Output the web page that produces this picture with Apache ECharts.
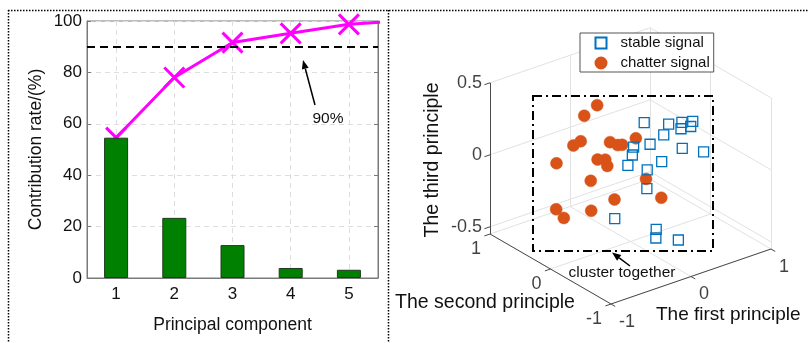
<!DOCTYPE html>
<html>
<head>
<meta charset="utf-8">
<script src="https://cdn.jsdelivr.net/npm/echarts@6/dist/echarts.min.js"></script>
<style>
  html, body { margin: 0; padding: 0; background: #fff; }
  #chart { width: 808px; height: 343px; }
</style>
</head>
<body>
<div id="chart"></div>
<script>
// ---- Contribution of each principal component (%) ----
const components = [1, 2, 3, 4, 5];
const contribution = [54.6, 23.4, 12.8, 3.9, 3.2];
const cumulativeX = [1, 2, 3, 4, 5, 6];
const cumulative = [54.6, 78.0, 91.6, 95.2, 98.7, 100.3];
const threshold = 90;

// ---- Scores on the first three principal components [first, second, third] ----
const stableSignal = [
  [0.02, -0.20, 0.32], [0.25, -0.30, 0.29], [0.34, -0.40, 0.31], [0.40, -0.50, 0.33],
  [0.48, -0.20, 0.19], [0.45, -0.40, 0.26], [0.34, -0.10, 0.15], [0.32, 0.10, 0.04],
  [0.19, 0.20, 0.02], [0.42, -0.30, 0.09], [0.46, -0.60, 0.13], [0.25, 0.30, -0.07],
  [0.39, 0.00, -0.07], [0.27, 0.40, -0.17], [0.36, 0.20, -0.17], [0.28, 0.10, -0.26],
  [0.03, 0.30, -0.47], [0.17, -0.20, -0.45], [0.09, -0.30, -0.47], [0.22, -0.50, -0.46]
];
const chatterSignal = [
  [-0.19, 0.30, 0.36], [-0.20, 0.50, 0.24], [-0.32, 0.40, 0.11], [-0.26, 0.60, 0.02],
  [-0.18, 0.10, 0.15], [-0.16, 0.00, 0.15], [-0.18, -0.10, 0.18], [-0.16, -0.30, 0.27],
  [-0.32, 0.80, -0.14], [-0.26, 0.20, 0.02], [-0.24, 0.10, 0.04], [-0.29, 0.00, 0.03],
  [-0.27, 0.30, -0.15], [-0.26, -0.60, 0.08], [-0.20, 0.00, -0.22], [-0.22, -0.80, -0.01],
  [-0.40, 0.70, -0.42], [-0.38, 0.60, -0.46], [-0.34, 0.20, -0.32]
];
const firstTicks = [-1, 0, 1];
const secondTicks = [-1, 0, 1];
const thirdTicks = [-0.5, 0, 0.5];

// ---- Orthographic view of the 3-D box inside the right panel ----
const range3d = { x: [-1, 1], y: [-1, 1], z: [-0.55, 0.5] };
const box = { corner: [223, 304], spanX: [160, -55], spanY: [-121, -70], spanZ: [0, -151.2] };
function project(p) {
  const u = (p[0] - range3d.x[0]) / (range3d.x[1] - range3d.x[0]);
  const v = (p[1] - range3d.y[0]) / (range3d.y[1] - range3d.y[0]);
  const w = (p[2] - range3d.z[0]) / (range3d.z[1] - range3d.z[0]);
  return [
    box.corner[0] + u * box.spanX[0] + v * box.spanY[0] + w * box.spanZ[0],
    box.corner[1] + u * box.spanX[1] + v * box.spanY[1] + w * box.spanZ[1]
  ];
}
const [x0, x1] = range3d.x, [y0, y1] = range3d.y, [zmin, zmax] = range3d.z;

// back planes grid
const gridSegs = [];
firstTicks.forEach(t => gridSegs.push([[t, y0, zmin], [t, y1, zmin]]));
secondTicks.forEach(t => gridSegs.push([[x0, t, zmin], [x1, t, zmin]]));
firstTicks.forEach(t => gridSegs.push([[t, y1, zmin], [t, y1, zmax]]));
thirdTicks.forEach(t => gridSegs.push([[x0, y1, t], [x1, y1, t]]));
secondTicks.forEach(t => gridSegs.push([[x1, t, zmin], [x1, t, zmax]]));
thirdTicks.forEach(t => gridSegs.push([[x1, y0, t], [x1, y1, t]]));

// axis lines and their tick marks
const axisSegs = [
  [[x0, y0, zmin], [x1, y0, zmin]],
  [[x0, y0, zmin], [x0, y1, zmin]],
  [[x0, y1, zmin], [x0, y1, zmax]]
];
firstTicks.forEach(t => axisSegs.push([[t, y0, zmin], [t, y0 - 0.07, zmin]]));
secondTicks.forEach(t => axisSegs.push([[x0, t, zmin], [x0 - 0.07, t, zmin]]));
thirdTicks.forEach(t => axisSegs.push([[x0, y1, t], [x0 - 0.07, y1, t]]));

const toLines = segs => segs.map(s => ({ coords: [project(s[0]), project(s[1])] }));
const fmt = v => (v < 0 ? '-' + Math.abs(v) : String(v));

const tickLabels = [];
thirdTicks.forEach(t => tickLabels.push({ value: project([x0, y1, t]), name: fmt(t), off: [-8, 0], align: 'right' }));
secondTicks.forEach(t => tickLabels.push({ value: project([x0, t, zmin]), name: fmt(t), off: [-9, 15], align: 'right' }));
firstTicks.forEach(t => tickLabels.push({ value: project([t, y0, zmin]), name: fmt(t), off: [8, 18], align: 'left' }));

const FONT = 'Liberation Sans, Arial, Helvetica, sans-serif';
const INK = '#111';

function arrow(from, to) {
  const dx = to[0] - from[0], dy = to[1] - from[1];
  const len = Math.hypot(dx, dy), ux = dx / len, uy = dy / len;
  const hl = 9, hw = 3.5;
  const bx = to[0] - ux * hl, by = to[1] - uy * hl;
  return [
    { type: 'line', shape: { x1: from[0], y1: from[1], x2: bx, y2: by }, style: { stroke: '#000', lineWidth: 1.5 }, z: 20 },
    { type: 'polygon', shape: { points: [to, [bx - uy * hw, by + ux * hw], [bx + uy * hw, by - ux * hw]] }, style: { fill: '#000' }, z: 20 }
  ];
}
const dotted = { stroke: '#000', lineWidth: 1.5, lineDash: [1.5, 1.5] };

const chart = echarts.init(document.getElementById('chart'), null, { renderer: 'canvas' });
chart.setOption({
  animation: false,
  backgroundColor: '#fff',
  textStyle: { fontFamily: FONT },
  grid: [
    { left: 87, top: 21, width: 291, height: 257, show: true, borderColor: '#7a7a7a', borderWidth: 1, backgroundColor: 'transparent' },
    { left: 388, top: 0, width: 420, height: 343 }
  ],
  xAxis: [
    {
      gridIndex: 0, type: 'value', min: 0.5, max: 5.5,
      name: 'Principal component', nameLocation: 'middle', nameGap: 38,
      nameTextStyle: { fontSize: 17.5, color: INK, fontFamily: FONT },
      axisLine: { show: true, onZero: false, lineStyle: { color: '#7a7a7a' } },
      axisTick: { show: true, inside: true, length: 4, customValues: components, lineStyle: { color: '#7a7a7a' } },
      axisLabel: { customValues: components, fontSize: 17, color: INK, margin: 8, fontFamily: FONT },
      splitLine: { show: true, lineStyle: { type: [5, 4], color: '#dedede' } }
    },
    { gridIndex: 1, type: 'value', min: 0, max: 420, show: false }
  ],
  yAxis: [
    {
      gridIndex: 0, type: 'value', min: 0, max: 100, interval: 20,
      name: 'Contribution rate/(%)', nameLocation: 'middle', nameGap: 42,
      nameTextStyle: { fontSize: 17.5, color: INK, fontFamily: FONT },
      axisLine: { show: true, lineStyle: { color: '#7a7a7a' } },
      axisTick: { show: true, inside: true, length: 4, lineStyle: { color: '#7a7a7a' } },
      axisLabel: { fontSize: 17, color: INK, margin: 5, fontFamily: FONT },
      splitLine: { show: true, lineStyle: { type: [5, 4], color: '#dedede' } }
    },
    {
      gridIndex: 0, type: 'value', min: 0, max: 100, interval: 20, position: 'right',
      axisLine: { show: true, lineStyle: { color: '#7a7a7a' } },
      axisTick: { show: true, inside: true, length: 4, lineStyle: { color: '#7a7a7a' } },
      axisLabel: { show: false }, splitLine: { show: false }
    },
    { gridIndex: 1, type: 'value', min: 0, max: 343, inverse: true, show: false }
  ],
  legend: {
    data: ['stable signal', 'chatter signal'],
    orient: 'vertical', left: 580, top: 33,
    padding: [1.5, 4, 0.5, 14.5], itemGap: 3,
    itemWidth: 11, itemHeight: 11,
    borderColor: '#555', borderWidth: 1, backgroundColor: '#fff',
    textStyle: { fontSize: 15, color: INK, fontFamily: FONT, lineHeight: 17, padding: [0, 0, 0, 9] },
    z: 30
  },
  series: [
    {
      type: 'line', xAxisIndex: 0, yAxisIndex: 0, clip: true,
      data: cumulativeX.map((x, i) => [x, cumulative[i]]),
      symbol: 'path://M0,0L10,10M10,0L0,10', symbolSize: 20,
      lineStyle: { color: '#ff00ff', width: 3 },
      itemStyle: { color: '#ff00ff', borderColor: '#ff00ff', borderWidth: 3 },
      z: 2,
      markLine: {
        silent: true, symbol: ['none', 'none'], label: { show: false },
        lineStyle: { color: '#000', width: 2, type: [8, 5] },
        data: [{ yAxis: threshold }]
      }
    },
    {
      type: 'bar', xAxisIndex: 0, yAxisIndex: 0, barWidth: 24,
      data: components.map((c, i) => [c, contribution[i]]),
      itemStyle: { color: '#008000', borderColor: '#203820', borderWidth: 1 },
      z: 3
    },
    {
      type: 'lines', coordinateSystem: 'cartesian2d', xAxisIndex: 1, yAxisIndex: 2,
      data: toLines(gridSegs), lineStyle: { color: '#e2e2e2', width: 1, opacity: 1 }, silent: true, z: 1
    },
    {
      type: 'lines', coordinateSystem: 'cartesian2d', xAxisIndex: 1, yAxisIndex: 2,
      data: toLines(axisSegs), lineStyle: { color: '#4a4a4a', width: 1, opacity: 1 }, silent: true, z: 2
    },
    {
      type: 'scatter', xAxisIndex: 1, yAxisIndex: 2, symbolSize: 0, silent: true,
      data: tickLabels.map(t => ({
        value: t.value, name: t.name,
        label: { show: true, position: 'inside', offset: t.off, align: t.align, verticalAlign: 'middle', formatter: t.name, fontSize: 18, color: INK, fontFamily: FONT }
      }))
    },
    {
      name: 'chatter signal', type: 'scatter', xAxisIndex: 1, yAxisIndex: 2,
      data: chatterSignal.map(project), symbol: 'circle', symbolSize: 12,
      itemStyle: { color: '#D95319', borderColor: '#D95319', borderWidth: 0.5, opacity: 1 }, z: 5
    },
    {
      name: 'stable signal', type: 'scatter', xAxisIndex: 1, yAxisIndex: 2,
      data: stableSignal.map(project), symbol: 'rect', symbolSize: 10,
      itemStyle: { color: 'rgba(255,255,255,0)', borderColor: '#0072BD', borderWidth: 1.3, opacity: 1 }, z: 6
    }
  ],
  graphic: [
    // panel frames
    { type: 'line', shape: { x1: 8, y1: 10.5, x2: 808, y2: 10.5 }, style: dotted, z: 40 },
    { type: 'line', shape: { x1: 8.5, y1: 10, x2: 8.5, y2: 343 }, style: dotted, z: 40 },
    { type: 'line', shape: { x1: 388.5, y1: 10, x2: 388.5, y2: 343 }, style: dotted, z: 40 },
    // threshold annotation
    ...arrow([315, 105], [303, 60]),
    { type: 'text', x: 328, y: 119, style: { text: '90%', fontSize: 15.5, fontFamily: FONT, fill: INK, align: 'center', verticalAlign: 'middle' }, z: 20 },
    // 3-D axis titles
    { type: 'text', x: 433, y: 160, rotation: Math.PI / 2, style: { text: 'The third principle', fontSize: 19.5, fontFamily: FONT, fill: INK, align: 'center', verticalAlign: 'middle' }, z: 20 },
    { type: 'text', x: 485, y: 303, style: { text: 'The second principle', fontSize: 19.5, fontFamily: FONT, fill: INK, align: 'center', verticalAlign: 'middle' }, z: 20 },
    { type: 'text', x: 656, y: 315, style: { text: 'The first principle', fontSize: 19, fontFamily: FONT, fill: INK, align: 'left', verticalAlign: 'middle' }, z: 20 },
    // cluster annotation
    { type: 'rect', shape: { x: 533, y: 96, width: 180, height: 155 }, style: { fill: 'none', stroke: '#000', lineWidth: 2, lineDash: [9, 4, 2, 4] }, z: 20 },
    ...arrow([630, 266], [612, 252.5]),
    { type: 'text', x: 622, y: 273, style: { text: 'cluster together', fontSize: 15.5, fontFamily: FONT, fill: INK, align: 'center', verticalAlign: 'middle' }, z: 21 }
  ]
});
</script>
</body>
</html>
